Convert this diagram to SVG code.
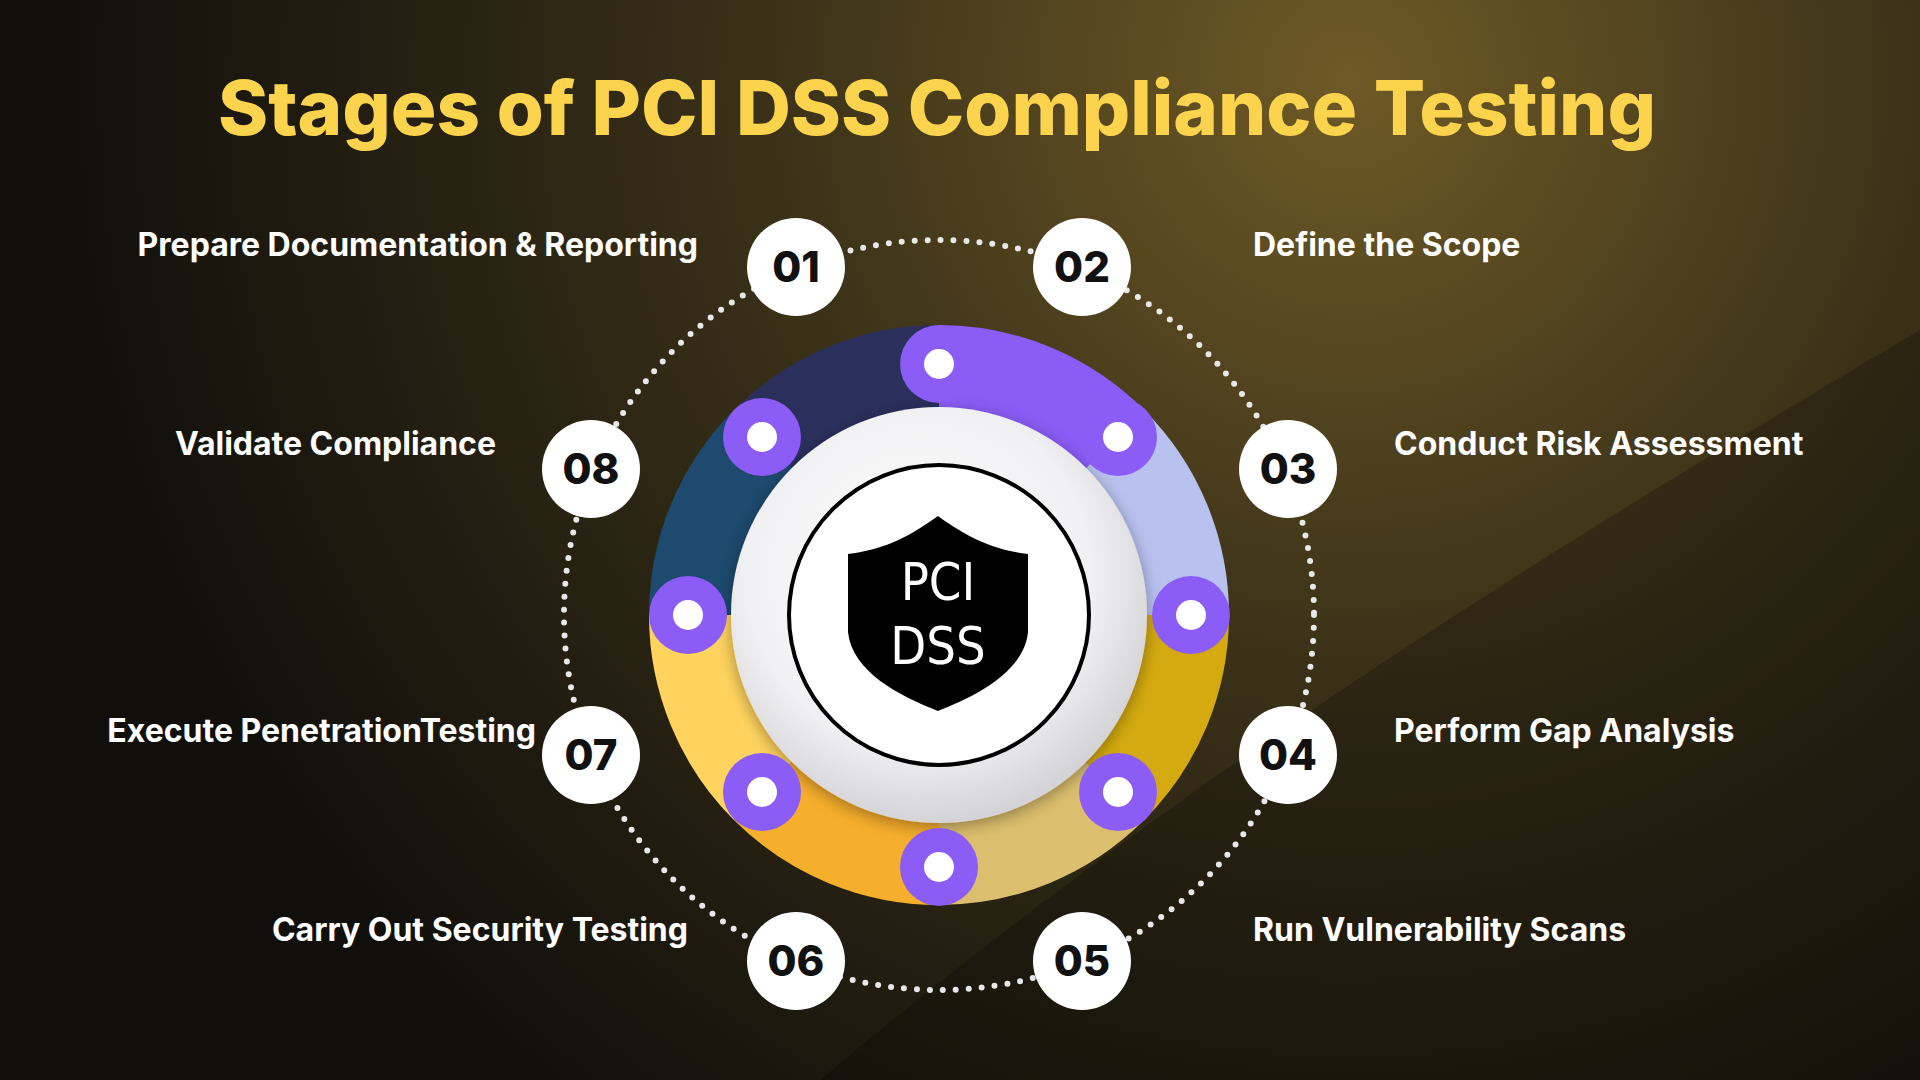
<svg xmlns="http://www.w3.org/2000/svg" width="1920" height="1080" viewBox="0 0 1920 1080">
<defs>
<radialGradient id="bg" cx="1350" cy="80" r="1300" gradientUnits="userSpaceOnUse">
<stop offset="0" stop-color="#6e5a26"/><stop offset="0.45" stop-color="#3a3118"/><stop offset="1" stop-color="#110f0b"/>
</radialGradient>
<radialGradient id="inner" cx="0.45" cy="0.4" r="0.6">
<stop offset="0" stop-color="#ffffff"/><stop offset="0.7" stop-color="#f0f0f2"/><stop offset="1" stop-color="#d4d4d8"/>
</radialGradient>
<filter id="sh" x="-20%" y="-20%" width="140%" height="140%"><feDropShadow dx="0" dy="4" stdDeviation="8" flood-color="#000" flood-opacity="0.35"/></filter>
<style>
.lbl{font-family:"Inter","Liberation Sans",sans-serif;font-weight:700;font-size:32px;fill:#fff}
.num{font-family:"Inter","Liberation Sans",sans-serif;font-weight:800;font-size:42px;fill:#111;text-anchor:middle}
.node circle{fill:#fff}
.pd{fill:#8b5cf6}
.pw{fill:#fff}
.sht{font-family:"DejaVu Sans Condensed","DejaVu Sans",sans-serif;font-size:52px;fill:#fff;text-anchor:middle}
</style>
</defs>
<rect width="1920" height="1080" fill="url(#bg)"/>
<path d="M820 1080 C 1200 760 1600 520 1920 330 L1920 1080 Z" fill="#000" opacity="0.22"/>
<text x="937" y="135" text-anchor="middle" font-family="Inter,'Liberation Sans',sans-serif" font-weight="800" font-size="76" fill="#fcd34d">Stages of PCI DSS Compliance Testing</text>
<g id="connectors">
<circle cx="939" cy="615" r="375" fill="none" stroke="#e8e8e8" stroke-width="6" stroke-linecap="round" stroke-dasharray="0 13"/>
</g>
<g id="ring">
<path d="M939 615 L939 325 A290 290 0 0 1 1144.1 409.9 Z" fill="#8b5cf6"/>
<path d="M939 615 L1144.1 409.9 A290 290 0 0 1 1229 615 Z" fill="#b9c2ef"/>
<path d="M939 615 L1229 615 A290 290 0 0 1 1144.1 820.1 Z" fill="#d4aa10"/>
<path d="M939 615 L1144.1 820.1 A290 290 0 0 1 939 905 Z" fill="#dcbf6e"/>
<path d="M939 615 L939 905 A290 290 0 0 1 733.9 820.1 Z" fill="#f6ae2d"/>
<path d="M939 615 L733.9 820.1 A290 290 0 0 1 649 615 Z" fill="#ffd35e"/>
<path d="M939 615 L649 615 A290 290 0 0 1 733.9 409.9 Z" fill="#1d4a6e"/>
<path d="M939 615 L733.9 409.9 A290 290 0 0 1 939 325 Z" fill="#2b2f5c"/>
<circle cx="939" cy="615" r="208" fill="url(#inner)" filter="url(#sh)"/>
<circle cx="939" cy="615" r="150" fill="#fff" stroke="#000" stroke-width="4"/>
<g>
<circle class="pd" cx="939" cy="364" r="39"/><circle class="pw" cx="939" cy="364" r="15"/>
<circle class="pd" cx="1118" cy="437" r="39"/><circle class="pw" cx="1118" cy="437" r="15"/>
<circle class="pd" cx="1191" cy="615" r="39"/><circle class="pw" cx="1191" cy="615" r="15"/>
<circle class="pd" cx="1118" cy="792" r="39"/><circle class="pw" cx="1118" cy="792" r="15"/>
<circle class="pd" cx="939" cy="867" r="39"/><circle class="pw" cx="939" cy="867" r="15"/>
<circle class="pd" cx="762" cy="792" r="39"/><circle class="pw" cx="762" cy="792" r="15"/>
<circle class="pd" cx="688" cy="615" r="39"/><circle class="pw" cx="688" cy="615" r="15"/>
<circle class="pd" cx="762" cy="437" r="39"/><circle class="pw" cx="762" cy="437" r="15"/>
</g>
</g>
<g id="shield">
<path d="M938 516 C 905 540 880 550 848 554 L 848 632 C 852 672 900 696 938 711 C 976 696 1024 672 1028 632 L 1028 554 C 996 550 971 540 938 516 Z" fill="#000"/>
<text class="sht" x="938" y="600">PCI</text>
<text class="sht" x="938" y="664">DSS</text>
</g>
<g id="n01" class="node"><circle cx="796" cy="267" r="49"/><text class="num" x="796" y="282">01</text></g>
<g id="n02" class="node"><circle cx="1082" cy="267" r="49"/><text class="num" x="1082" y="282">02</text></g>
<g id="n03" class="node"><circle cx="1288" cy="469" r="49"/><text class="num" x="1288" y="484">03</text></g>
<g id="n04" class="node"><circle cx="1288" cy="755" r="49"/><text class="num" x="1288" y="770">04</text></g>
<g id="n05" class="node"><circle cx="1082" cy="961" r="49"/><text class="num" x="1082" y="976">05</text></g>
<g id="n06" class="node"><circle cx="796" cy="961" r="49"/><text class="num" x="796" y="976">06</text></g>
<g id="n07" class="node"><circle cx="591" cy="755" r="49"/><text class="num" x="591" y="770">07</text></g>
<g id="n08" class="node"><circle cx="591" cy="469" r="49"/><text class="num" x="591" y="484">08</text></g>
<g id="labels">
<text class="lbl" x="698" y="256" text-anchor="end">Prepare Documentation &amp; Reporting</text>
<text class="lbl" x="1253" y="256">Define the Scope</text>
<text class="lbl" x="1394" y="455">Conduct Risk Assessment</text>
<text class="lbl" x="1394" y="742">Perform Gap Analysis</text>
<text class="lbl" x="1253" y="941">Run Vulnerability Scans</text>
<text class="lbl" x="688" y="941" text-anchor="end">Carry Out Security Testing</text>
<text class="lbl" x="536" y="742" text-anchor="end">Execute PenetrationTesting</text>
<text class="lbl" x="496" y="455" text-anchor="end">Validate Compliance</text>
</g>
</svg>
